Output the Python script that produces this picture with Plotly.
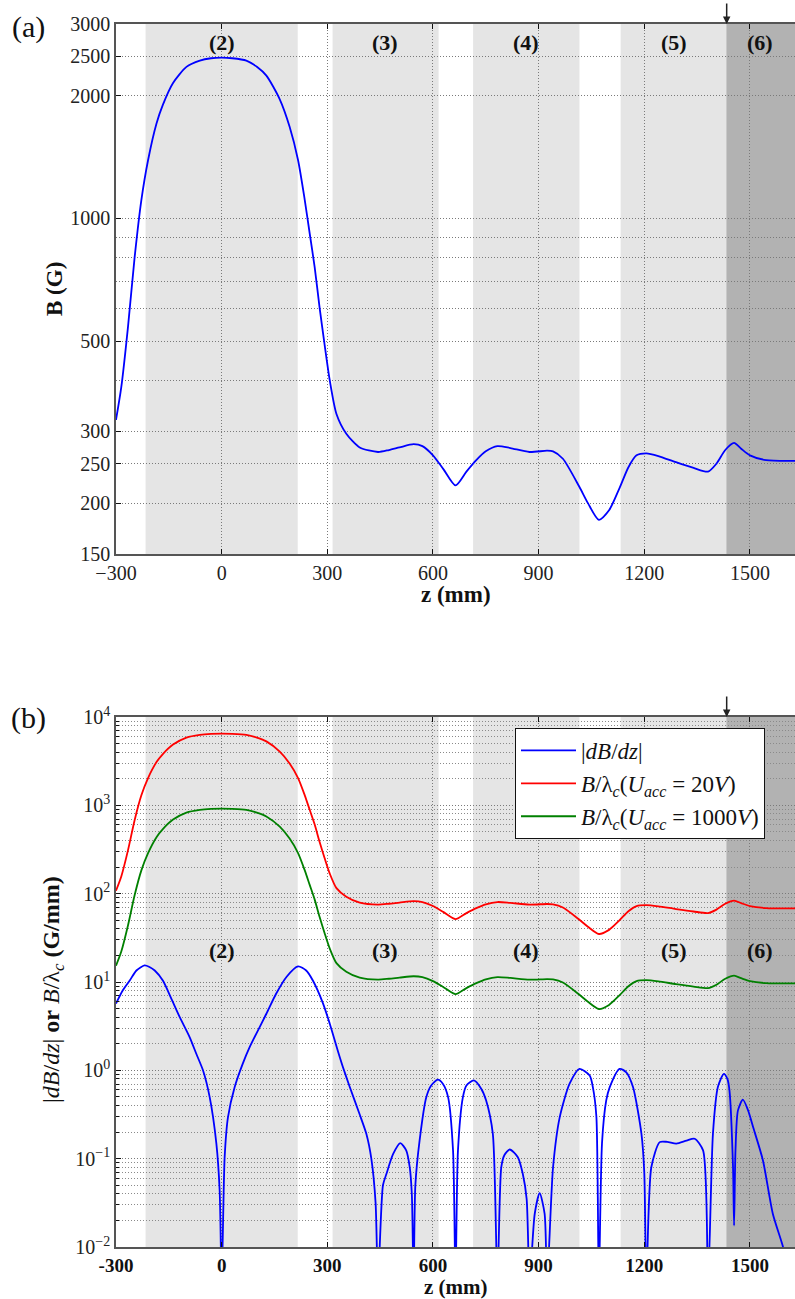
import numpy as np
import plotly.graph_objects as go

# ---------------------------------------------------------------------------
# On-axis magnetic field profile B(z)
# ---------------------------------------------------------------------------
z_B = [-300, -285, -266, -247, -228, -209, -185, -167, -138, -100, -62, -30, 0,
       30, 70, 100, 127, 165, 193, 217, 236, 250, 264, 278, 292, 307, 326, 354,
       392, 444, 475, 505, 545, 570, 600, 630, 664, 695, 723, 750, 783, 820,
       874, 924, 941, 969, 1016, 1040, 1071, 1100, 1130, 1155, 1178, 1206,
       1240, 1290, 1340, 1381, 1405, 1430, 1455, 1475, 1500, 1546, 1628]
B_G = [320, 385, 541, 804, 1109, 1389, 1710, 1900, 2150, 2354, 2440, 2472, 2480,
       2472, 2440, 2355, 2240, 1960, 1678, 1389, 1109, 918, 760, 605, 492, 400, 331, 296,
       274, 267, 270, 274, 279, 276, 262, 242, 221, 239, 255, 268, 276, 273,
       267, 269, 268, 257, 219, 200, 182, 192, 218, 245, 262, 265,
       261, 252, 244, 239, 250, 270, 281, 272, 262, 255, 254]

# |dB/dz| (G/mm); 0.004 marks the zero crossings (below the plotted range)
z_dB = [-300, -281, -261, -242, -219, -205, -190, -167, -143, -119, -91, -72, -53,
        -34, -15, -5.7, 0,
        8.5, 18, 37, 60, 79.5, 127, 155, 184, 217, 240, 259, 288, 307, 330, 344,
        363, 392, 411, 425, 437, 444,
        458, 468, 487, 507, 524, 534, 540, 545,
        550, 562, 581, 595, 614, 628, 643, 657, 664,
        671, 685, 695, 716, 737, 751, 770, 783,
        794, 803, 818, 841, 855, 866, 874.5,
        889, 903, 917, 924,
        941, 960, 988, 1016, 1045, 1054, 1064, 1071,
        1080, 1092, 1102, 1130, 1149, 1168, 1192, 1200, 1206,
        1220, 1244, 1265, 1291, 1320, 1343, 1367, 1381,
        1395, 1409, 1426, 1436, 1442, 1452, 1455, 1459, 1466, 1480, 1495, 1509,
        1537, 1565, 1594, 1605]
dBdz = [5.7, 8.0, 10.4, 13.5, 15.4, 14.8, 13.5, 10.4, 6.5, 4.0, 2.38, 1.54, 1.0,
        0.497, 0.148, 0.0437, 0.004,
        0.104, 0.295, 0.646, 1.19, 1.83, 4.37, 7.4, 11.4, 15.0, 13.5, 10.4, 5.7, 3.37, 1.66, 1.10,
        0.66, 0.316, 0.19, 0.10, 0.032, 0.004,
        0.05, 0.0675, 0.113, 0.15, 0.124, 0.08, 0.0395, 0.004,
        0.05, 0.16, 0.497, 0.675, 0.783, 0.705, 0.497, 0.124, 0.004,
        0.124, 0.497, 0.675, 0.77, 0.62, 0.456, 0.191, 0.004,
        0.08, 0.11, 0.127, 0.104, 0.0675, 0.035, 0.004,
        0.0238, 0.0407, 0.0238, 0.004,
        0.08, 0.295, 0.705, 1.04, 0.875, 0.646, 0.3, 0.004,
        0.15, 0.456, 0.646, 1.04, 0.95, 0.646, 0.191, 0.07, 0.004,
        0.08, 0.154, 0.155, 0.148, 0.16, 0.168, 0.124, 0.004,
        0.191, 0.646, 0.914, 0.8, 0.59, 0.08, 0.0175, 0.124, 0.352, 0.465, 0.35, 0.228,
        0.0955, 0.0238, 0.01, 0.006]
assert len(z_B) == len(B_G) and len(z_dB) == len(dBdz)

# Acceleration voltages for the electron cyclotron length
U_acc = [20, 1000]

# Magnet sections (mm)
light_regions = [(-216, 216), (315, 616), (714, 1016), (1133, 1433)]
dark_region = (1433, 1628)
region_names = ["(2)", "(3)", "(4)", "(5)", "(6)"]
region_centers = [0, 465, 865, 1283, 1530]
marker_z = 1434

x_ticks = [-300, 0, 300, 600, 900, 1200, 1500]
top_y_ticks = [150, 200, 250, 300, 500, 1000, 2000, 2500, 3000]
top_y_minor = [400, 600, 700, 800, 900]
bot_y_ticks = [1e-2, 1e-1, 1e0, 1e1, 1e2, 1e3, 1e4]
bot_y_text = ["10<sup>−2</sup>", "10<sup>−1</sup>", "10<sup>0</sup>", "10<sup>1</sup>",
              "10<sup>2</sup>", "10<sup>3</sup>", "10<sup>4</sup>"]
bot_y_minor = [m * 10.0 ** e for e in range(-2, 4) for m in range(2, 10)]

# ---------------------------------------------------------------------------
E_OVER_M = 1.75882e11  # electron charge-to-mass ratio (C/kg)


def b_over_lambda_c(b_gauss, u_volts):
    """B divided by the cyclotron length, in G/mm."""
    b = np.asarray(b_gauss, dtype=float)
    v = np.sqrt(2 * E_OVER_M * u_volts)
    lam_mm = 2 * np.pi * v / (E_OVER_M * b * 1e-4) * 1e3
    return b / lam_mm


FONT = "Liberation Serif"
W, H = 795, 1299
X0 = 116 / W
TOP_DOM = [1 - 554 / H, 1 - 24 / H]
BOT_DOM = [1 - 1247 / H, 1 - 717 / H]
X_RANGE = [-300, 1628]

fig = go.Figure()

fig.add_trace(go.Scatter(x=z_B, y=B_G, mode="lines", xaxis="x", yaxis="y",
                         line=dict(color="#0000ff", width=1.8, shape="spline", smoothing=0.7),
                         showlegend=False))

fig.add_trace(go.Scatter(x=z_dB, y=dBdz, mode="lines", xaxis="x2", yaxis="y2",
                         name="|<i>dB</i>/<i>dz</i>|",
                         line=dict(color="#0000ff", width=1.8, shape="spline", smoothing=0.7)))
fig.add_trace(go.Scatter(x=z_B, y=b_over_lambda_c(B_G, U_acc[0]), mode="lines",
                         xaxis="x2", yaxis="y2",
                         name="<i>B</i>/λ<sub><i>c</i></sub>(<i>U</i><sub><i>acc</i></sub> = 20<i>V</i>)",
                         line=dict(color="#ff0000", width=1.8, shape="spline", smoothing=0.7)))
fig.add_trace(go.Scatter(x=z_B, y=b_over_lambda_c(B_G, U_acc[1]), mode="lines",
                         xaxis="x2", yaxis="y2",
                         name="<i>B</i>/λ<sub><i>c</i></sub>(<i>U</i><sub><i>acc</i></sub> = 1000<i>V</i>)",
                         line=dict(color="#008000", width=1.8, shape="spline", smoothing=0.7)))

shapes = []
for xr, yr in (("x", "y domain"), ("x2", "y2 domain")):
    for a, b in light_regions:
        shapes.append(dict(type="rect", xref=xr, yref=yr, x0=a, x1=b, y0=0, y1=1,
                           fillcolor="#e5e5e5", line_width=0, layer="below"))
    shapes.append(dict(type="rect", xref=xr, yref=yr, x0=dark_region[0], x1=dark_region[1],
                       y0=0, y1=1, fillcolor="#b2b2b2", line_width=0, layer="below"))

DOTS = "1px,2px"
GRID = dict(showgrid=True, gridcolor="#7a7a7a", griddash=DOTS, gridwidth=1)
LINE = dict(showline=True, linecolor="#555555", linewidth=1.6, ticks="inside",
            ticklen=5, tickcolor="#111111", tickwidth=1, automargin=False)
TICKFONT = dict(family=FONT, size=20, color="#222")
BOLDTICK = dict(family=FONT, size=19, color="#111", weight="bold")

fig.update_layout(
    width=W, height=H, margin=dict(l=0, r=0, t=0, b=0, autoexpand=False),
    paper_bgcolor="white", plot_bgcolor="white",
    font=dict(family=FONT, size=20, color="#111"),
    shapes=shapes,
    xaxis=dict(domain=[X0, 1], anchor="y", range=X_RANGE, tickvals=x_ticks,
               ticktext=[str(t).replace("-", "−") for t in x_ticks], mirror="allticks",
               tickfont=TICKFONT, zeroline=False, **GRID, **LINE),
    yaxis=dict(domain=TOP_DOM, anchor="x", type="log",
               range=[np.log10(150), np.log10(3000)], tickvals=top_y_ticks,
               ticktext=[str(t) for t in top_y_ticks], tickfont=TICKFONT, zeroline=False,
               minor=dict(tickvals=top_y_minor, showgrid=True, gridcolor="#7a7a7a",
                          griddash=DOTS, ticks=""),
               **GRID, **LINE),
    xaxis2=dict(domain=[X0, 1], anchor="y2", range=X_RANGE, tickvals=x_ticks,
                ticktext=[str(t) for t in x_ticks], mirror="allticks",
                tickfont=BOLDTICK, zeroline=False, **GRID, **LINE),
    yaxis2=dict(domain=BOT_DOM, anchor="x2", type="log", range=[-2, 4],
                tickvals=bot_y_ticks, ticktext=bot_y_text, tickfont=TICKFONT,
                zeroline=False,
                minor=dict(tickvals=bot_y_minor, showgrid=True, gridcolor="#8a8a8a",
                           griddash=DOTS, ticks="inside", ticklen=3, tickcolor="#111"),
                **GRID, **LINE),
    legend=dict(x=515 / W, y=1 - 728 / H, xanchor="left", yanchor="top",
                bgcolor="white", bordercolor="#111", borderwidth=1,
                font=dict(family=FONT, size=23, color="#111"),
                itemwidth=55, tracegroupgap=0),
)

ann = []
for yr, ypos in (("y domain", (554 - 43) / 530), ("y2 domain", (1247 - 950) / 530)):
    xr = "x" if yr == "y domain" else "x2"
    for name, zc in zip(region_names, region_centers):
        ann.append(dict(x=zc, y=ypos, xref=xr, yref=yr, text=f"<b>{name}</b>",
                        xanchor="center", yanchor="middle", showarrow=False,
                        font=dict(family=FONT, size=22, color="#111")))
    # section marker arrow above the frame
    ann.append(dict(x=marker_z, y=1, xref=xr, yref=yr, ax=0, ay=-22, text="",
                    showarrow=True, arrowhead=2, arrowsize=1, arrowwidth=1.5,
                    arrowcolor="#222"))


def paper_text(px, py, text, size, angle=0):
    return dict(x=px / W, y=1 - py / H, xref="paper", yref="paper", text=text,
                xanchor="center", yanchor="middle", textangle=angle,
                showarrow=False, font=dict(family=FONT, size=size, color="#111"))


# panel tags
ann.append(paper_text(28, 27, "(a)", 30))
ann.append(paper_text(28, 718, "(b)", 30))

# axis titles
ann.append(paper_text((116 + 795) / 2, 594, "<b>z (mm)</b>", 23))
ann.append(paper_text((116 + 795) / 2, 1287, "<b>z (mm)</b>", 21))
ann.append(paper_text(55, 289, "<b>B (G)</b>", 23, -90))
ann.append(paper_text(53, 990, "|<i>dB</i>/<i>dz</i>| <b>or</b> <i>B</i>/λ<sub><i>c</i></sub> <b>(G/mm)</b>",
                      24, -90))

fig.update_layout(annotations=ann)
fig.write_html("out.html")
